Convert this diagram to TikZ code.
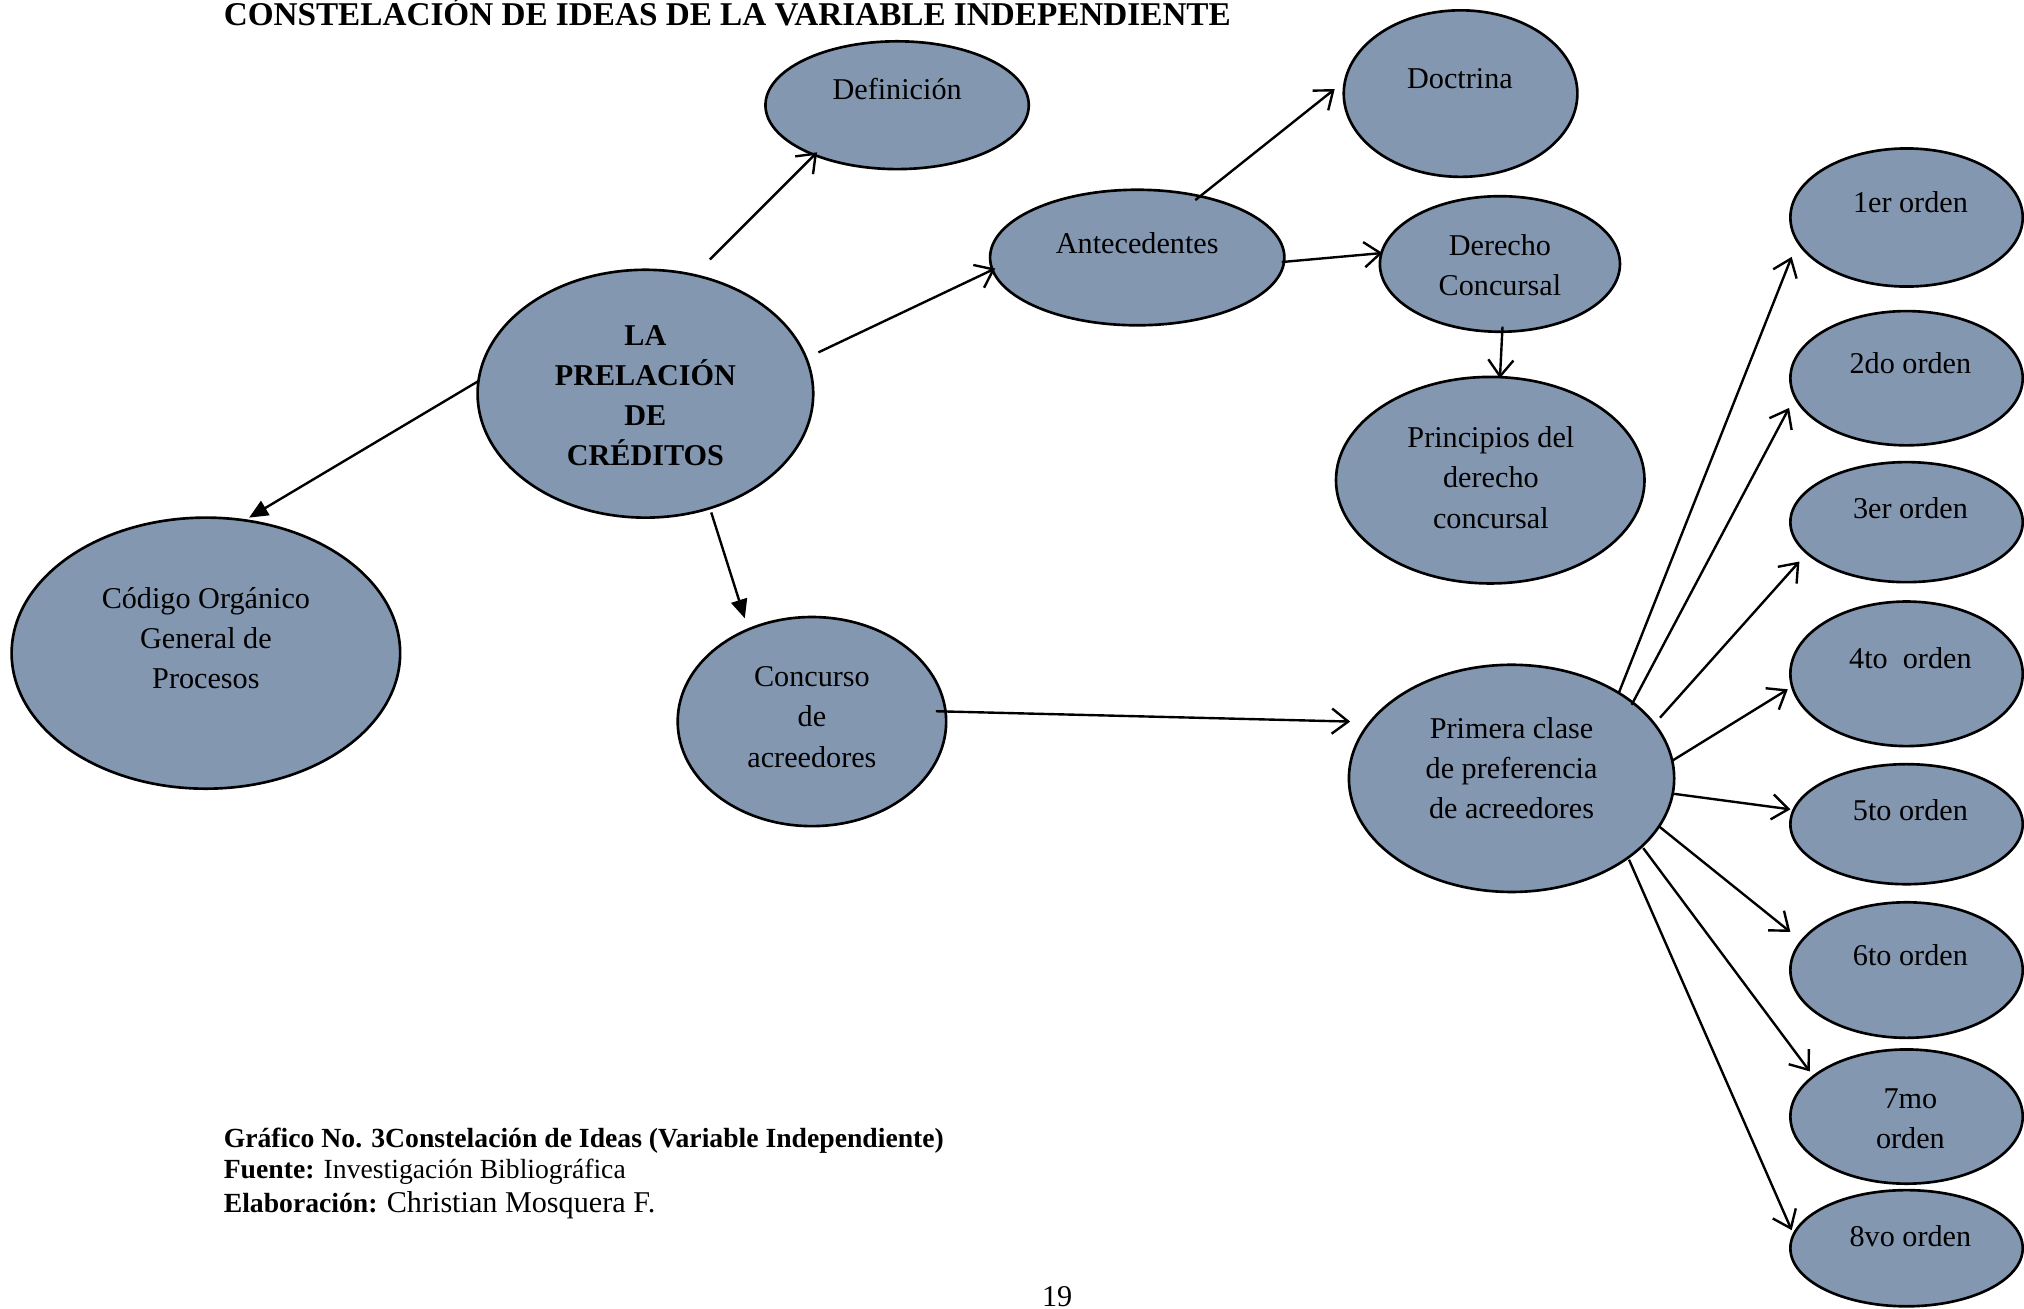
\documentclass[tikz,border=0pt]{standalone}
\usepackage{fontspec}
\setmainfont{Liberation Serif}
\usetikzlibrary{arrows.meta,shapes.geometric}
\definecolor{ovfill}{HTML}{8497B0}
\begin{document}
\begin{tikzpicture}[x=0.513pt,y=-0.513pt,
  ov/.style 2 args={ellipse,draw=black,line width=1.05pt,fill=ovfill,inner sep=0pt,
     minimum width={2*#1*0.513pt},minimum height={2*#2*0.513pt}},
  txt/.style={inner sep=0pt,align=center,font=\fontsize{12}{16}\selectfont},
  arr/.style={line width=0.95pt,-{Straight Barb[length=6.5pt,width=10pt,line width=0.95pt]}},
  farr/.style={line width=0.95pt,-{Triangle[length=7.5pt,width=6.5pt]}}]
\useasboundingbox (0,0) rectangle (1568,1014);
% ellipses
\node[ov={102}{49.5}] (def) at (695,81.5) {};
\node[ov={90.5}{64.5}] (doc) at (1131.5,72.5) {};
\node[ov={114}{52.5}] (ant) at (881,199.5) {};
\node[ov={93}{52.5}] (der) at (1162,204.5) {};
\node[ov={119.5}{80}] (pri) at (1154.5,372) {};
\node[ov={130}{96}] (prel) at (500,305) {};
\node[ov={150.5}{105}] (cod) at (159.5,506) {};
\node[ov={104}{81}] (con) at (629,559) {};
\node[ov={126}{88}] (pcl) at (1171,603) {};
\node[ov={90}{53.5}] (o1) at (1477,168.5) {};
\node[ov={90}{52}] (o2) at (1477,293) {};
\node[ov={90}{46.5}] (o3) at (1477,404.5) {};
\node[ov={90}{56}] (o4) at (1477,522) {};
\node[ov={90}{46.5}] (o5) at (1477,638.5) {};
\node[ov={90}{52.5}] (o6) at (1477,751.5) {};
\node[ov={90}{52}] (o7) at (1477,865) {};
\node[ov={90}{45}] (o8) at (1477,967) {};
% texts
\node[txt] (def-t) at (695,69) {Definición};
\node[txt] (doc-t) at (1131,61) {Doctrina};
\node[txt] (ant-t) at (881,188) {Antecedentes};
\node[txt] (der-t) at (1162,205.5) {Derecho\\Concursal};
\node[txt] (pri-t) at (1155,370) {Principios del\\derecho\\concursal};
\node[txt,font=\fontsize{12}{16}\selectfont\bfseries] (prel-t) at (500,306.5) {LA\\PRELACIÓN\\DE\\CRÉDITOS};
\node[txt] (cod-t) at (159.5,494.5) {Código Orgánico\\General de\\Procesos};
\node[txt] (con-t) at (629,555.5) {Concurso\\de\\acreedores};
\node[txt] (pcl-t) at (1171,595) {Primera clase\\de preferencia\\de acreedores};
\node[txt] (o1-t) at (1480,157) {1er orden};
\node[txt] (o2-t) at (1480,281) {2do orden};
\node[txt] (o3-t) at (1480,394) {3er orden};
\node[txt] (o4-t) at (1480,510) {4to\ \ orden};
\node[txt] (o5-t) at (1480,628) {5to orden};
\node[txt] (o6-t) at (1480,740) {6to orden};
\node[txt] (o7-t) at (1480,866.5) {7mo\\orden};
\node[txt] (o8-t) at (1480,958) {8vo orden};
% connectors
\draw[arr] ([shift={(50,-104)}]prel.center) -- ([shift={(-62,36.5)}]def.center);
\draw[arr] ([shift={(134,-32)}]prel.center) -- ([shift={(-110,8.5)}]ant.center);
\draw[farr] ([shift={(-129,-10)}]prel.center) -- ([shift={(33.5,-105)}]cod.center);
\draw[farr] ([shift={(51,92)}]prel.center) -- ([shift={(-52,-80)}]con.center);
\draw[arr] ([shift={(45,-44.5)}]ant.center) -- ([shift={(-97.5,-3.5)}]doc.center);
\draw[arr] ([shift={(112,3.5)}]ant.center) -- ([shift={(-91,-8.5)}]der.center);
\draw[arr] ([shift={(2,48.5)}]der.center) -- ([shift={(7.5,-79)}]pri.center);
\draw[arr] ([shift={(96,-8)}]con.center) -- ([shift={(-125,-44)}]pcl.center);
\draw[arr] ([shift={(83,-66)}]pcl.center) -- ([shift={(-89,30.5)}]o1.center);
\draw[arr] ([shift={(93,-57)}]pcl.center) -- ([shift={(-91,23)}]o2.center);
\draw[arr] ([shift={(115,-47)}]pcl.center) -- ([shift={(-83,30.5)}]o3.center);
\draw[arr] ([shift={(125,-14)}]pcl.center) -- ([shift={(-92,12)}]o4.center);
\draw[arr] ([shift={(126,12)}]pcl.center) -- ([shift={(-90,-11.5)}]o5.center);
\draw[arr] ([shift={(114,37)}]pcl.center) -- ([shift={(-90,-29.5)}]o6.center);
\draw[arr] ([shift={(102,54)}]pcl.center) -- ([shift={(-75,-35)}]o7.center);
\draw[arr] ([shift={(91,63)}]pcl.center) -- ([shift={(-89,-14)}]o8.center);
% title and caption
\node[anchor=base west,inner sep=0pt,font=\fontsize{13.2}{15}\selectfont\bfseries] (title) at (173,20) {CONSTELACIÓN DE IDEAS DE LA VARIABLE INDEPENDIENTE};
\node[anchor=base west,inner sep=0pt,font=\fontsize{11}{13}\selectfont\bfseries] (cap1) at (173,889) {Gráfico No. 3Constelación de Ideas (Variable Independiente)};
\node[anchor=base west,inner sep=0pt,font=\fontsize{11}{13}\selectfont] (cap2) at (173,913) {\textbf{Fuente:} Investigación Bibliográfica};
\node[anchor=base west,inner sep=0pt,font=\fontsize{11}{13}\selectfont] (cap3) at (173,939) {\textbf{Elaboración:} {\fontsize{12}{14}\selectfont Christian Mosquera F.}};
\node[anchor=base,inner sep=0pt,font=\fontsize{12}{14}\selectfont] (pnum) at (819,1012) {19};
\end{tikzpicture}
\end{document}
